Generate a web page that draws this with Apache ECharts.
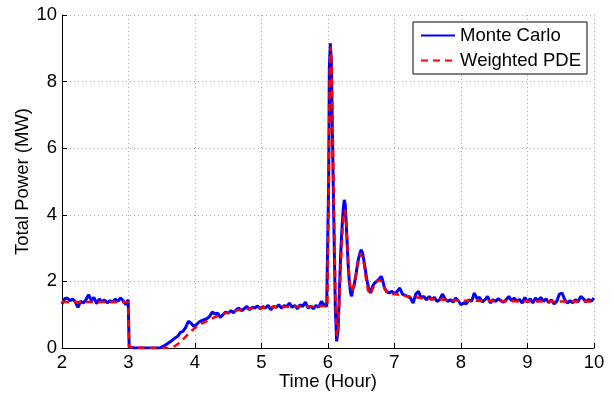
<!DOCTYPE html>
<html>
<head>
<meta charset="utf-8">
<script src="https://cdn.jsdelivr.net/npm/echarts@6/dist/echarts.min.js"></script>
<style>
html,body{margin:0;padding:0;background:#fff;}
#chart{width:613px;height:394px;}
</style>
</head>
<body>
<div id="chart"></div>
<script>
// ---- Data ----
var mcTime = [
  2.00,2.04,2.08,2.12,2.16,2.20,2.24,2.28,2.32,2.36,2.40,2.44,2.48,2.52,2.56,2.60,2.64,2.68,2.72,2.76,2.80,2.84,2.88,2.92,2.96,2.995,
  3.01,3.10,3.20,3.30,3.40,3.47,3.50,3.55,3.60,3.65,3.70,3.74,3.78,3.82,3.86,3.90,3.94,3.98,
  4.02,4.06,4.10,4.14,4.18,4.22,4.26,4.30,4.34,4.38,4.42,4.46,4.50,4.54,4.58,4.62,4.66,4.70,4.74,4.78,4.82,4.86,4.90,4.94,4.98,
  5.02,5.06,5.10,5.14,5.18,5.22,5.26,5.30,5.34,5.38,5.42,5.46,5.50,5.54,5.58,5.62,5.66,5.70,5.74,5.78,5.82,5.86,5.90,5.94,5.98,6.00,
  6.01,6.02,6.035,6.05,6.07,6.09,6.11,6.13,6.15,6.17,6.19,6.21,6.23,6.245,6.26,6.28,6.30,6.32,6.34,6.355,6.37,6.39,6.42,6.45,6.48,6.50,6.52,6.55,6.58,6.61,6.64,6.67,6.70,6.73,6.76,6.80,6.82,6.85,6.88,6.92,6.96,
  7.00,7.04,7.08,7.12,7.16,7.20,7.24,7.28,7.32,7.36,7.40,7.44,7.48,7.52,7.56,7.60,7.64,7.68,7.72,7.76,7.80,7.84,7.88,7.92,7.96,
  8.00,8.04,8.08,8.12,8.16,8.20,8.24,8.28,8.32,8.36,8.40,8.44,8.48,8.52,8.56,8.60,8.64,8.68,8.72,8.76,8.80,8.84,8.88,8.92,8.96,
  9.00,9.04,9.08,9.12,9.16,9.20,9.24,9.28,9.32,9.36,9.40,9.44,9.48,9.52,9.56,9.60,9.64,9.68,9.72,9.76,9.80,9.84,9.88,9.92,9.96,10.00
];
var mcPower = [
  1.32,1.48,1.50,1.42,1.47,1.38,1.22,1.40,1.35,1.45,1.60,1.43,1.52,1.33,1.47,1.40,1.44,1.36,1.42,1.38,1.47,1.40,1.50,1.42,1.30,1.45,
  0.02,0.00,0.00,0.00,0.00,0.00,0.02,0.08,0.15,0.22,0.30,0.35,0.47,0.50,0.62,0.80,0.75,0.65,
  0.70,0.78,0.82,0.85,0.88,0.95,1.08,1.02,1.05,0.92,1.00,1.08,1.05,1.12,1.06,1.15,1.20,1.12,1.18,1.25,1.15,1.22,1.20,1.26,1.18,
  1.24,1.20,1.28,1.15,1.25,1.22,1.30,1.20,1.27,1.24,1.35,1.22,1.28,1.18,1.30,1.25,1.38,1.20,1.25,1.18,1.28,1.22,1.40,1.30,1.25,1.30,
  5.00,8.40,9.15,8.60,6.00,3.50,1.20,0.20,0.50,1.60,2.80,3.60,4.20,4.45,4.30,3.50,2.60,2.00,1.65,1.55,1.75,1.85,2.20,2.60,2.85,2.95,2.85,2.50,2.10,1.80,1.65,1.85,1.95,1.90,2.05,2.15,2.05,1.80,1.70,1.65,1.70,
  1.62,1.70,1.80,1.62,1.58,1.55,1.50,1.35,1.62,1.70,1.50,1.55,1.45,1.55,1.45,1.52,1.40,1.45,1.62,1.48,1.40,1.45,1.38,1.50,1.42,
  1.30,1.35,1.33,1.45,1.40,1.65,1.48,1.52,1.38,1.45,1.55,1.35,1.45,1.40,1.48,1.42,1.38,1.45,1.55,1.42,1.50,1.40,1.46,1.35,1.52,
  1.38,1.48,1.35,1.50,1.42,1.52,1.40,1.48,1.36,1.45,1.32,1.40,1.62,1.65,1.45,1.35,1.42,1.36,1.45,1.38,1.55,1.48,1.38,1.46,1.40,1.50
];
var pdeTime = [
  2.00,2.50,2.995,3.01,3.30,3.60,3.65,3.70,3.75,3.80,3.85,3.90,3.95,4.00,4.05,4.10,4.20,4.30,4.40,4.50,4.60,4.70,4.80,5.00,5.20,5.50,5.80,5.99,
  6.01,6.025,6.04,6.055,6.075,6.095,6.115,6.135,6.155,6.175,6.20,6.22,6.24,6.255,6.27,6.29,6.31,6.33,6.35,6.37,6.40,6.43,6.46,6.49,6.51,6.54,6.57,6.60,6.63,6.66,6.70,6.74,6.78,6.82,6.86,6.90,
  7.00,7.20,7.50,8.00,9.00,10.00
];
var pdePower = [
  1.38,1.38,1.38,0.02,0.00,0.00,0.02,0.06,0.13,0.22,0.32,0.42,0.52,0.60,0.67,0.73,0.83,0.93,1.00,1.07,1.12,1.16,1.18,1.21,1.23,1.24,1.25,1.26,
  4.50,8.00,9.05,8.50,6.00,3.50,1.30,0.35,0.60,1.60,2.80,3.60,4.05,4.15,3.90,3.20,2.40,1.90,1.70,1.72,1.95,2.30,2.65,2.85,2.85,2.55,2.10,1.75,1.60,1.72,1.90,2.00,2.05,1.95,1.75,1.65,
  1.62,1.55,1.48,1.42,1.40,1.40
];
var xTicks = [2,3,4,5,6,7,8,9,10];
var yTicks = [0,2,4,6,8,10];
var seriesNames = ['Monte Carlo', 'Weighted PDE'];

function pairs(t, v){ var out=[]; for (var i=0;i<t.length;i++) out.push([t[i], v[i]]); return out; }

var font = 'Arial, "Liberation Sans", Helvetica, sans-serif';
var fs = 18.5;
var chart = echarts.init(document.getElementById('chart'), null, {renderer:'canvas'});
chart.setOption({
  backgroundColor: '#ffffff',
  animation: false,
  grid: { left: 62, right: 19, top: 15, bottom: 46, containLabel: false, outerBoundsMode: 'none' },
  legend: {
    data: seriesNames,
    orient: 'vertical',
    right: 26, top: 22,
    backgroundColor: '#ffffff',
    borderColor: '#000000', borderWidth: 1, borderRadius: 0,
    padding: [4, 6, 4, 7],
    itemGap: 6,
    itemWidth: 34, itemHeight: 14,
    itemStyle: { opacity: 0 },
    textStyle: { fontFamily: font, fontSize: fs, color: '#000' }
  },
  xAxis: {
    type: 'value', min: xTicks[0], max: xTicks[xTicks.length-1], interval: 1,
    name: 'Time (Hour)', nameLocation: 'middle', nameGap: 24, nameMoveOverlap: false,
    nameTextStyle: { fontFamily: font, fontSize: fs, color: '#000' },
    axisLine: { show: true, onZero: false, lineStyle: { color: '#000', width: 1 } },
    axisTick: { show: true, inside: true, length: 5, lineStyle: { color: '#000' } },
    axisLabel: { fontFamily: font, fontSize: fs, color: '#000', margin: 5 },
    splitLine: { show: true, lineStyle: { color: '#aaa', type: [1, 3], width: 1 } }
  },
  yAxis: {
    type: 'value', min: yTicks[0], max: yTicks[yTicks.length-1], interval: 2,
    name: 'Total Power (MW)', nameLocation: 'middle', nameGap: 30, nameMoveOverlap: false,
    nameTextStyle: { fontFamily: font, fontSize: fs, color: '#000' },
    axisLine: { show: true, lineStyle: { color: '#000', width: 1 } },
    axisTick: { show: true, inside: true, length: 5, lineStyle: { color: '#000' } },
    axisLabel: { fontFamily: font, fontSize: fs, color: '#000', margin: 5 },
    splitLine: { show: true, lineStyle: { color: '#aaa', type: [1, 3], width: 1 } }
  },
  series: [
    {
      name: seriesNames[0], type: 'line', data: pairs(mcTime, mcPower),
      symbol: 'none', showSymbol: false,
      lineStyle: { color: '#0000ff', width: 3 }, itemStyle: { color: '#0000ff' }, z: 2
    },
    {
      name: seriesNames[1], type: 'line', data: pairs(pdeTime, pdePower),
      symbol: 'none', showSymbol: false,
      lineStyle: { color: '#ff0000', width: 2.5, type: [7, 5] }, itemStyle: { color: '#ff0000' }, z: 3
    }
  ]
});
</script>
</body>
</html>
